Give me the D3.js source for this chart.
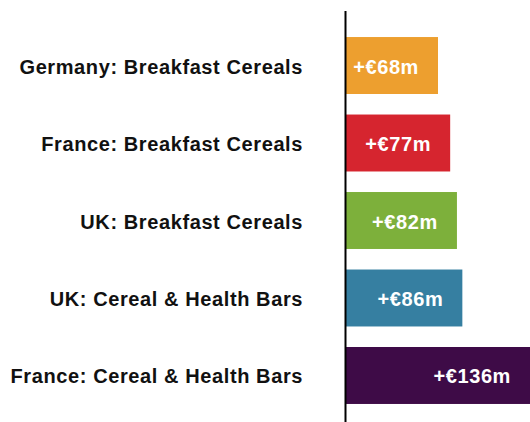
<!DOCTYPE html>
<html>
<head>
<meta charset="utf-8">
<script src="https://cdn.jsdelivr.net/npm/d3@7"></script>
<style>
  body { margin: 0; background: #fff; }
  svg { display: block; }
  .label { font-family: "Liberation Sans", Arial, sans-serif; font-weight: bold; font-size: 20px; letter-spacing: 0.6px; fill: #111; }
  .value { font-family: "Liberation Sans", Arial, sans-serif; font-weight: bold; font-size: 20px; letter-spacing: 0.6px; fill: #fff; }
</style>
</head>
<body>
<script>
// chart data
const categories = [
  "Germany: Breakfast Cereals",
  "France: Breakfast Cereals",
  "UK: Breakfast Cereals",
  "UK: Cereal & Health Bars",
  "France: Cereal & Health Bars"
];
const values = [68, 77, 82, 86, 136];
const colors = ["#ED9F2F", "#D6252F", "#7DB03B", "#367FA1", "#3E0B47"];

const width = 530, height = 422;
const axisX = 346;

const svg = d3.select("body").append("svg")
  .attr("width", width)
  .attr("height", height);

const x = d3.scaleLinear()
  .domain([0, 136])
  .range([axisX, 530]);

const y = d3.scaleBand()
  .domain(categories)
  .range([16.5, 424.5])
  .padding(0.265);

const rows = categories.map((c, i) => ({name: c, value: values[i], color: colors[i]}));

// bars
svg.selectAll("rect.bar")
  .data(rows)
  .enter().append("rect")
  .attr("class", "bar")
  .attr("x", x(0))
  .attr("y", d => y(d.name))
  .attr("width", d => x(d.value) - x(0))
  .attr("height", y.bandwidth())
  .attr("fill", d => d.color);

// category labels
svg.selectAll("text.label")
  .data(rows)
  .enter().append("text")
  .attr("class", "label")
  .attr("x", 303)
  .attr("y", d => y(d.name) + y.bandwidth() / 2)
  .attr("dy", "0.4em")
  .attr("text-anchor", "end")
  .text(d => d.name);

// value labels
svg.selectAll("text.value")
  .data(rows)
  .enter().append("text")
  .attr("class", "value")
  .attr("x", d => x(d.value) - 19)
  .attr("y", d => y(d.name) + y.bandwidth() / 2)
  .attr("dy", "0.4em")
  .attr("text-anchor", "end")
  .text(d => "+€" + d.value + "m");

// vertical axis line
svg.append("line")
  .attr("x1", axisX - 0.5)
  .attr("x2", axisX - 0.5)
  .attr("y1", 11)
  .attr("y2", height)
  .attr("stroke", "#000")
  .attr("stroke-width", 2);
</script>
</body>
</html>
